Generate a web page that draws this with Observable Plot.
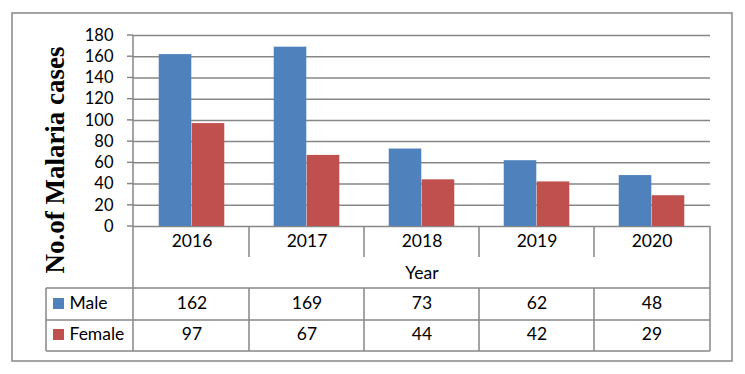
<!DOCTYPE html>
<html><head><meta charset="utf-8">
<script src="https://cdn.jsdelivr.net/npm/d3@7"></script>
<script src="https://cdn.jsdelivr.net/npm/@observablehq/plot@0.6"></script>
<style>body{margin:0;background:#fff} svg{display:block}</style>
</head><body><div id="chart"></div>
<script>
const years = ["2016", "2017", "2018", "2019", "2020"];
const male = [162, 169, 73, 62, 48];
const female = [97, 67, 44, 42, 29];
const series = ["Male", "Female"];
const seriesColors = ["#4F81BD", "#C0504D"];
const yTicks = [0, 20, 40, 60, 80, 100, 120, 140, 160, 180];
const yTitle = "No.of Malaria cases";
const xTitle = "Year";

const W = 745, H = 374, ML = 133, MR = 35, MT = 35, MB = 148;
const bw = (W - ML - MR) / years.length;
const barW = bw / 3.5; // Excel gap width 150%
const rows = years.map((y, i) => ({year: y, male: male[i], female: female[i]}));
const GRID = "#878787";
const SANS = "Lato, 'Open Sans', sans-serif";

function tableMark(index, scales, values, dims) {
  const {x, y} = scales;
  const x0 = dims.marginLeft, x1 = dims.width - dims.marginRight;
  const y0 = y(0), yTop = y(d3.max(yTicks));
  const rowTop = y0 + 62, rowMid = y0 + 94, rowBot = y0 + 125;
  const tableLeft = x0 - 87;
  const g = d3.create("svg:g").attr("stroke", GRID).attr("stroke-width", 1.5).attr("fill", "none");
  const line = (a, b, c, d) => g.append("line").attr("x1", a).attr("y1", b).attr("x2", c).attr("y2", d);
  yTicks.forEach(t => line(x0 - 6, y(t), x0, y(t)));
  line(x0, yTop, x0, rowBot);
  line(x1, y0, x1, rowBot);
  years.slice(1).forEach(yr => {
    const xb = x(yr);
    line(xb, y0, xb, y0 + 31);
    line(xb, rowTop, xb, rowBot);
  });
  [rowTop, rowMid, rowBot].forEach(r => line(tableLeft, r, x1, r));
  line(tableLeft, rowTop, tableLeft, rowBot);
  g.append("rect").attr("x", 12).attr("y", 13).attr("width", dims.width - 25).attr("height", dims.height - 26);
  series.forEach((s, i) => g.append("rect")
    .attr("x", tableLeft + 7).attr("y", y0 + 72 + 31 * i)
    .attr("width", 11).attr("height", 11)
    .attr("fill", seriesColors[i]).attr("stroke", "none"));
  return g.node();
}

const txt = {fontSize: 17.5, fill: "#000", lineAnchor: "middle"};

const chart = Plot.plot({
  width: W, height: H,
  marginLeft: ML, marginRight: MR, marginTop: MT, marginBottom: MB,
  style: {fontFamily: SANS, fontSize: "16.5px", color: "#000", background: "#fff"},
  x: {domain: years, padding: 0, axis: null},
  y: {domain: [0, 180], ticks: yTicks, tickSize: 0, tickPadding: 20, label: null, tickFormat: d => d},
  marks: [
    Plot.ruleY(yTicks, {stroke: GRID, strokeWidth: 1.5}),
    Plot.barY(rows, {x: "year", y: "male", fill: seriesColors[0], insetLeft: barW * 0.75, insetRight: bw - 1.75 * barW}),
    Plot.barY(rows, {x: "year", y: "female", fill: seriesColors[1], insetLeft: barW * 1.75, insetRight: bw - 2.75 * barW}),
    tableMark,
    Plot.text(years, {...txt, x: d => d, frameAnchor: "bottom", dy: 15}),
    Plot.text([xTitle], {...txt, frameAnchor: "bottom", dy: 47}),
    Plot.text(male, {...txt, x: years, text: d => d, frameAnchor: "bottom", dy: 77}),
    Plot.text(female, {...txt, x: years, text: d => d, frameAnchor: "bottom", dy: 108}),
    Plot.text([series[0]], {...txt, frameAnchor: "bottom-left", textAnchor: "start", dx: -64, dy: 77}),
    Plot.text([series[1]], {...txt, frameAnchor: "bottom-left", textAnchor: "start", dx: -64, dy: 108}),
    Plot.text([yTitle], {frameAnchor: "left", textAnchor: "middle", lineAnchor: "middle", rotate: -90, dx: -78, dy: 29, fontFamily: "'Liberation Serif', 'DejaVu Serif', serif", fontWeight: "bold", fontSize: 27, fill: "#000"})
  ]
});
document.getElementById("chart").appendChild(chart);
</script>
</body></html>
